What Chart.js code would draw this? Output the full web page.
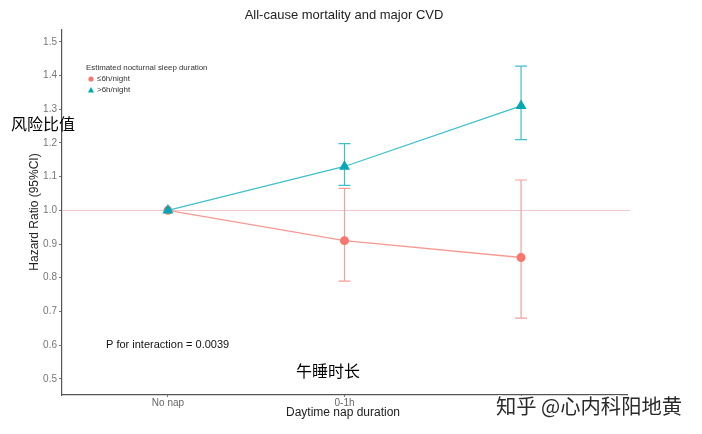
<!DOCTYPE html>
<html><head><meta charset="utf-8">
<script src="https://cdn.jsdelivr.net/npm/chart.js@4"></script>
<style>html,body{margin:0;padding:0;background:#fff}#wrap{width:702px;height:434px}</style>
</head><body><div id="wrap"><canvas id="c" width="702" height="434"></canvas></div>
<script>
const categories = ["No nap", "0-1h", ">1h"];
const shortSleepHR = [1.00, 0.91, 0.86];
const shortSleepLow = [1.00, 0.79, 0.68];
const shortSleepHigh = [1.00, 1.065, 1.09];
const longSleepHR = [1.00, 1.13, 1.31];
const longSleepLow = [1.00, 1.074, 1.21];
const longSleepHigh = [1.00, 1.198, 1.428];
const yTicks = [0.5, 0.6, 0.7, 0.8, 0.9, 1.0, 1.1, 1.2, 1.3, 1.4, 1.5];
const seriesNames = ["\u22646h/night", ">6h/night"];
const RED = "#F8766D", TEAL = "#00A9B5";

const toPts = arr => arr.map((v, i) => ({x: i + 1, y: v}));

const overlay = {
  id: 'overlay',
  beforeDatasetsDraw(chart) {
    const {ctx, scales: {x, y}} = chart;
    ctx.save();
    ctx.strokeStyle = '#efc9c9';
    ctx.lineWidth = 1;
    const yy = Math.round(y.getPixelForValue(1.0)) + 0.5;
    ctx.beginPath(); ctx.moveTo(x.left, yy); ctx.lineTo(x.right + 3, yy); ctx.stroke();
    const drawErr = (lo, hi, col) => {
      ctx.strokeStyle = col; ctx.lineWidth = 1.2;
      lo.forEach((l, i) => {
        if (l === hi[i]) return;
        const px = x.getPixelForValue(i + 1);
        const p1 = y.getPixelForValue(l), p2 = y.getPixelForValue(hi[i]);
        ctx.beginPath();
        ctx.moveTo(px, p1); ctx.lineTo(px, p2);
        ctx.moveTo(px - 6, p1); ctx.lineTo(px + 6, p1);
        ctx.moveTo(px - 6, p2); ctx.lineTo(px + 6, p2);
        ctx.stroke();
      });
    };
    drawErr(shortSleepLow, shortSleepHigh, '#f4a09a');
    drawErr(longSleepLow, longSleepHigh, '#3fbfca');
    ctx.restore();
  },
  afterDraw(chart) {
    const {ctx} = chart;
    ctx.save();
    ctx.fillStyle = '#222';
    ctx.textAlign = 'center'; ctx.textBaseline = 'middle';
    ctx.font = '13px "Liberation Sans", Arial, sans-serif';
    ctx.fillText('All-cause mortality and major CVD', 344, 15);
    ctx.font = '12px "Liberation Sans", Arial, sans-serif';
    ctx.fillText('Daytime nap duration', 343, 413);
    ctx.save();
    ctx.translate(35, 212); ctx.rotate(-Math.PI / 2);
    ctx.fillText('Hazard Ratio (95%CI)', 0, 0);
    ctx.restore();
    // legend
    ctx.textAlign = 'left';
    ctx.font = '7.9px "Liberation Sans", Arial, sans-serif';
    ctx.fillStyle = '#333';
    ctx.fillText('Estimated nocturnal sleep duration', 86, 68);
    ctx.font = '8px "Liberation Sans", Arial, sans-serif';
    ctx.fillText(seriesNames[0], 97, 79);
    ctx.fillText(seriesNames[1], 97, 90);
    ctx.fillStyle = RED;
    ctx.beginPath(); ctx.arc(91, 79, 2.6, 0, Math.PI * 2); ctx.fill();
    ctx.fillStyle = TEAL;
    ctx.beginPath(); ctx.moveTo(91, 87); ctx.lineTo(94, 92.5); ctx.lineTo(88, 92.5); ctx.closePath(); ctx.fill();
    // annotation
    ctx.fillStyle = '#111';
    ctx.font = '11px "Liberation Sans", Arial, sans-serif';
    ctx.fillText('P for interaction = 0.0039', 106, 345);
    ctx.font = '16px "Noto Sans CJK SC", sans-serif';
    ctx.fillStyle = '#000';
    ctx.fillText('风险比值', 11, 124);
    ctx.fillText('午睡时长', 296, 371);
    // watermark
    ctx.fillStyle = '#fff';
    ctx.fillRect(494, 396, 205, 24);
    ctx.font = '20.3px "Noto Sans CJK SC", sans-serif';
    ctx.fillStyle = '#2a2a2a';
    ctx.strokeStyle = '#fff'; ctx.lineWidth = 2;
    ctx.strokeText('知乎 @心内科阳地黄', 496, 406);
    ctx.fillText('知乎 @心内科阳地黄', 496, 406);
    ctx.restore();
  }
};

new Chart(document.getElementById('c'), {
  type: 'scatter',
  data: {
    datasets: [
      {label: seriesNames[0], data: toPts(shortSleepHR), showLine: true, borderColor: '#f59a93', backgroundColor: RED, order: 2,
       pointBackgroundColor: RED, pointBorderColor: RED, pointRadius: 3.8, pointStyle: 'circle', borderWidth: 1.3},
      {label: seriesNames[1], data: toPts(longSleepHR), showLine: true, borderColor: '#3fbfca', backgroundColor: TEAL, order: 1,
       pointBackgroundColor: TEAL, pointBorderColor: TEAL, pointRadius: 5, pointStyle: 'triangle', borderWidth: 1.3}
    ]
  },
  options: {
    responsive: false, animation: false,
    layout: {padding: {left: 0, top: 30, right: 75, bottom: 0}},
    plugins: {legend: {display: false}, title: {display: false}, tooltip: {enabled: false}},
    scales: {
      x: {
        type: 'linear', min: 0.4, max: 3.6,
        afterBuildTicks: s => { s.ticks = categories.map((c, i) => ({value: i + 1})); },
        afterFit: s => { s.height = 39; },
        ticks: {callback: v => categories[v - 1], color: '#666', font: {size: 10, family: '"Liberation Sans", Arial'}, padding: 0, maxRotation: 0, autoSkip: false},
        grid: {drawOnChartArea: false, drawTicks: true, tickLength: 2, color: '#777'},
        border: {display: true, color: '#555', width: 1.2}
      },
      y: {
        min: 0.452, max: 1.535,
        afterBuildTicks: s => { s.ticks = yTicks.map(v => ({value: v})); },
        afterFit: s => { s.width = 62; },
        ticks: {callback: v => v.toFixed(1), color: '#777', font: {size: 10, family: '"Liberation Sans", Arial'}, padding: 2},
        grid: {drawOnChartArea: false, drawTicks: true, tickLength: 3, color: '#777'},
        border: {display: true, color: '#555', width: 1.2}
      }
    }
  },
  plugins: [overlay]
});
</script></body></html>
